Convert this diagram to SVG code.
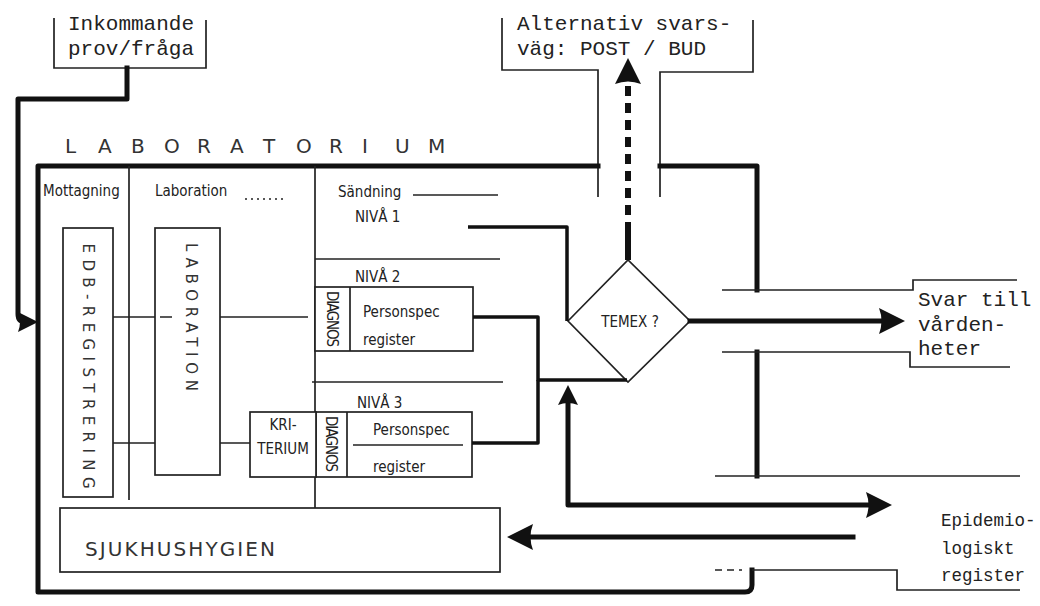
<svg xmlns="http://www.w3.org/2000/svg" width="1040" height="606" viewBox="0 0 1040 606">
<defs>
<style>
.thick{fill:none;stroke:#111;stroke-width:5;stroke-linejoin:round;stroke-linecap:square}
.med{fill:none;stroke:#111;stroke-width:3.5;stroke-linejoin:round}
.thin{fill:none;stroke:#222;stroke-width:1.7}
.box{fill:#fff;stroke:#222;stroke-width:1.7}
.mono{font-family:"Liberation Mono",monospace;font-size:21px;fill:#222}
.mono2{font-family:"Liberation Mono",monospace;font-size:17.5px;fill:#222}
.hand{font-family:"DejaVu Sans Condensed","Liberation Sans Narrow","DejaVu Sans",sans-serif;font-size:15px;fill:#222}
.lett{font-family:"DejaVu Sans",sans-serif;fill:#333}
</style>
<marker id="ahL" markerUnits="userSpaceOnUse" viewBox="0 0 26 28" markerWidth="26" markerHeight="28" refX="14" refY="14" orient="auto-start-reverse"><path d="M0,1 L26,14 L0,27 Q5,14 0,1 z" fill="#111"/></marker>
<marker id="ahS" markerUnits="userSpaceOnUse" viewBox="0 0 20 22" markerWidth="20" markerHeight="22" refX="8" refY="11" orient="auto-start-reverse"><path d="M0,1 L20,11 L0,21 Q4,11 0,1 z" fill="#111"/></marker>
</defs>
<rect width="1040" height="606" fill="#fff"/>

<g id="inkommande">
<path class="thin" d="M54,18 V68 H206 V20"/>
<text class="mono" x="68" y="30">Inkommande</text>
<text class="mono" x="68" y="55">prov/fråga</text>
</g>

<g id="alternativ">
<path class="thin" d="M502,18 V70 H598 V197"/>
<path class="thin" d="M753,20 V72 H660 V197"/>
<text class="mono" x="517" y="30">Alternativ svars-</text>
<text class="mono" x="517" y="55">väg: POST / BUD</text>
</g>

<g id="laboratorium">
<text class="lett" font-size="20" y="153"><tspan x="65">L</tspan><tspan x="98">A</tspan><tspan x="131">B</tspan><tspan x="164">O</tspan><tspan x="197">R</tspan><tspan x="230">A</tspan><tspan x="263">T</tspan><tspan x="296">O</tspan><tspan x="329">R</tspan><tspan x="362">I</tspan><tspan x="395">U</tspan><tspan x="428">M</tspan></text>
<path class="thick" d="M598,166 H38 V592 H745 Q752,592 752,585 V570"/>
<path class="thick" d="M660,166 H757 V290"/>
<path class="thick" d="M757,352 V476"/>
<path class="thin" d="M129,166 V500"/>
<path class="thin" d="M315,166 V508"/>
</g>

<g id="mottagning">
<text class="hand" x="43" y="196">Mottagning</text>
</g>

<g id="edb-registrering">
<rect class="box" x="63" y="228" width="50" height="269"/>
<text class="lett" font-size="15" x="88" y="366" text-anchor="middle" dominant-baseline="central" textLength="245" lengthAdjust="spacing" transform="rotate(90 88 366)">EDB-REGISTRERING</text>
</g>

<g id="laboration-kolumn">
<text class="hand" x="155" y="196">Laboration</text>
<path class="thin" d="M245,199 H287" stroke-dasharray="2 4"/>
</g>

<g id="laboration">
<rect class="box" x="155" y="228" width="65" height="247"/>
<text class="lett" font-size="15" x="191" y="317" text-anchor="middle" dominant-baseline="central" textLength="148" lengthAdjust="spacing" transform="rotate(90 191 317)">LABORATION</text>
</g>

<g id="sandning">
<text class="hand" x="338" y="197">Sändning</text>
<path class="thin" d="M413,195 H498"/>
</g>

<g id="niva1">
<text class="hand" x="355" y="222">NIVÅ 1</text>
<path class="thin" d="M315,259 H500"/>
</g>

<g id="niva2">
<text class="hand" x="355" y="282">NIVÅ 2</text>
<rect class="box" x="315" y="287" width="158" height="64"/>
<path class="thin" d="M350,287 V351"/>
<text class="hand" font-size="11" x="332" y="319" text-anchor="middle" dominant-baseline="central" textLength="56" lengthAdjust="spacing" transform="rotate(90 332 319)">DIAGNOS</text>
<text class="hand" x="363" y="317">Personspec</text>
<text class="hand" x="363" y="345">register</text>
</g>

<g id="niva3">
<path class="thin" d="M312,382 H503"/>
<text class="hand" x="357" y="408">NIVÅ 3</text>
<rect class="box" x="316" y="412" width="156" height="65"/>
<path class="thin" d="M347,412 V477"/>
<text class="hand" font-size="11" x="331" y="444" text-anchor="middle" dominant-baseline="central" textLength="56" lengthAdjust="spacing" transform="rotate(90 331 444)">DIAGNOS</text>
<text class="hand" x="373" y="435">Personspec</text>
<path class="thin" d="M353,445 H463"/>
<text class="hand" x="373" y="472">register</text>
</g>

<g id="kriterium">
<rect class="box" x="250" y="412" width="66" height="65"/>
<text class="hand" font-size="14" x="283" y="430" text-anchor="middle">KRI-</text>
<text class="hand" font-size="14" x="283" y="454" text-anchor="middle">TERIUM</text>
</g>

<g id="temex">
<polygon class="box" points="568,321 628,260 690,321 628,382"/>
<text class="hand" font-size="16" x="630" y="327" text-anchor="middle">TEMEX ?</text>
</g>

<g id="sjukhushygien">
<rect class="box" x="60" y="508" width="440" height="64"/>
<text class="lett" font-size="20" x="85" y="556" textLength="190" lengthAdjust="spacing">SJUKHUSHYGIEN</text>
</g>

<g id="svar">
<path class="thin" d="M722,290 H913 V280 H1017"/>
<path class="thin" d="M722,352 H910 V367 H1010"/>
<text class="mono" x="918" y="306">Svar till</text>
<text class="mono" x="918" y="331">vården-</text>
<text class="mono" x="918" y="355">heter</text>
</g>

<g id="epidemiologiskt">
<path class="thin" d="M715,476 H1020"/>
<path class="thin" d="M715,570 H742" stroke-dasharray="7 5"/>
<path class="thin" d="M752,570 H897 V590 H1020"/>
<text class="mono2" x="941" y="526">Epidemio-</text>
<text class="mono2" x="941" y="554">logiskt</text>
<text class="mono2" x="941" y="581">register</text>
</g>

<g id="connectors">
<path class="thick" d="M127,68 V99 H18 V314 Q18,322 26,322" marker-end="url(#ahS)"/>
<path fill="none" stroke="#111" stroke-width="6" d="M628,260 V232"/>
<path fill="none" stroke="#111" stroke-width="6" stroke-dasharray="10 7" d="M628,232 V70" marker-end="url(#ahL)"/>
<path class="med" d="M468,227 H567 V321"/>
<path class="med" d="M473,317 H538 V380 H627"/>
<path class="med" d="M472,443 H538 V380"/>
<path class="thin" d="M113,317 H155 M160,317 H172 M220,317 H308"/>
<path class="thin" d="M113,443 H155 M220,443 H250"/>
<path class="thick" d="M690,321 H893" marker-end="url(#ahL)"/>
<path class="thick" d="M568,397 V505 H880" marker-start="url(#ahS)" marker-end="url(#ahL)"/>
<path class="thick" d="M853,537 H519" marker-end="url(#ahL)"/>
</g>
</svg>
